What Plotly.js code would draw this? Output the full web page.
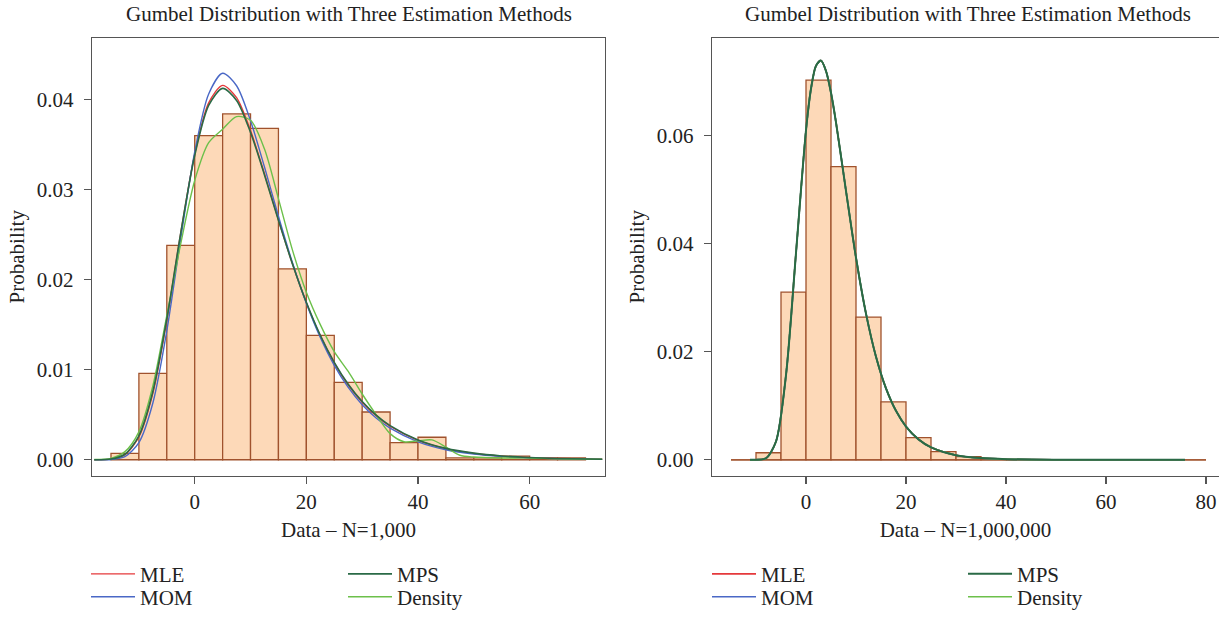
<!DOCTYPE html>
<html>
<head>
<meta charset="utf-8">
<script src="https://cdn.plot.ly/plotly-3.0.1.min.js"></script>
<style>html,body{margin:0;padding:0;background:#fff}#chart{width:1219px;height:618px}</style>
</head>
<body>
<div id="chart"></div>
<script>
// ---------- data: left panel (N = 1,000) ----------
const leftBinCenters = [-12.5,-7.5,-2.5,2.5,7.5,12.5,17.5,22.5,27.5,32.5,37.5,42.5,47.5,52.5,57.5,62.5,67.5];
const leftHist = [0.0007,0.0096,0.0238,0.0360,0.0384,0.0368,0.0212,0.0138,0.0086,0.0053,0.0019,0.0025,0.0002,0.0002,0.0004,0.0002,0.0002];
const leftBinWidth = 5;
const leftCurveX = [-18,-15,-12.5,-10,-7.5,-5,-2.5,0,2.5,5,7.5,10,12.5,15,17.5,20,22.5,25,27.5,30,32.5,35,40,45,50,55,60,65,73];
const leftMLE = [0.0000,0.00007,0.00055,0.00253,0.00738,0.01546,0.02519,0.03392,0.03963,0.04157,0.04020,0.03655,0.03175,0.02663,0.02176,0.01744,0.01375,0.01073,0.00830,0.00639,0.00488,0.00372,0.00215,0.00123,0.00070,0.00040,0.00023,0.00013,0.00005];
const leftMOM = [0.0000,0.00003,0.00035,0.00190,0.00630,0.01432,0.02458,0.03418,0.04062,0.04292,0.04153,0.03764,0.03250,0.02704,0.02190,0.01738,0.01357,0.01048,0.00803,0.00611,0.00463,0.00350,0.00198,0.00111,0.00062,0.00035,0.00020,0.00011,0.00004];
const leftMPS = [0.0000,0.00008,0.00061,0.00266,0.00758,0.01563,0.02520,0.03378,0.03935,0.04124,0.03990,0.03634,0.03162,0.02658,0.02177,0.01748,0.01382,0.01082,0.00839,0.00647,0.00496,0.00379,0.00220,0.00126,0.00073,0.00042,0.00024,0.00014,0.00006];
const leftDensX = [-18,-15,-12.5,-10,-7.5,-5,-2.5,0,2.5,5,7.5,10,12.5,15,17.5,20,22.5,25,27.5,30,32.5,35,37.5,40,42.5,45,47.5,50,55,60,65,73];
const leftDens = [0.00002,0.00015,0.0009,0.0031,0.0082,0.0160,0.0240,0.0310,0.0352,0.0367,0.0381,0.0377,0.0345,0.0290,0.0233,0.0186,0.0150,0.0120,0.0098,0.0073,0.0050,0.0029,0.0020,0.0021,0.0022,0.0014,0.0005,0.0003,0.0002,0.0002,0.0001,0.00005];

// ---------- data: right panel (N = 1,000,000) ----------
const rightBinCenters = [-12.5,-7.5,-2.5,2.5,7.5,12.5,17.5,22.5,27.5,32.5,37.5,42.5,47.5,52.5,57.5,62.5,67.5,72.5,77.5];
const rightHist = [0,0.0013,0.0310,0.0702,0.0542,0.0264,0.0107,0.0041,0.0015,0.0006,0.0002,0,0,0,0,0,0,0,0];
const rightBinWidth = 5;
const rightCurveX = [-11.2,-10,-8,-6,-4,-2,0,1,2,3,4,5,6,8,10,12,14,16,18,20,22.5,25,30,35,40,50,60,75.8];
const rightMLE = [0,0.000006,0.00028,0.00338,0.01566,0.03825,0.06094,0.06862,0.07287,0.07382,0.07191,0.06787,0.06241,0.04972,0.03737,0.02703,0.01906,0.01321,0.00905,0.00615,0.00377,0.00230,0.00085,0.00031,0.00011,0.000015,0.000002,0];
const rightMOM = [0,0.000006,0.00028,0.00338,0.01566,0.03825,0.06094,0.06862,0.07287,0.07382,0.07191,0.06787,0.06241,0.04972,0.03737,0.02703,0.01906,0.01321,0.00905,0.00615,0.00377,0.00230,0.00085,0.00031,0.00011,0.000015,0.000002,0];
const rightMPS = [0,0.000006,0.00028,0.00338,0.01566,0.03825,0.06094,0.06862,0.07287,0.07382,0.07191,0.06787,0.06241,0.04972,0.03737,0.02703,0.01906,0.01321,0.00905,0.00615,0.00377,0.00230,0.00085,0.00031,0.00011,0.000015,0.000002,0];
const rightDens = [0,0.000006,0.00028,0.00338,0.01566,0.03825,0.06094,0.06862,0.07287,0.07382,0.07191,0.06787,0.06241,0.04972,0.03737,0.02703,0.01906,0.01321,0.00905,0.00615,0.00377,0.00230,0.00085,0.00031,0.00011,0.000015,0.000002,0];

const panelTitle = 'Gumbel Distribution with Three Estimation Methods';
const leftXTitle = 'Data \u2013 N=1,000';
const rightXTitle = 'Data \u2013 N=1,000,000';
const yTitle = 'Probability';

// ---------- styling ----------
const FONT = 'Liberation Serif, Times New Roman, serif';
const FS = 21;
const TXT = '#222';
const AX = '#555';
const FILL = '#FDD9B8';
const EDGE = '#A0522D';
const C = {MLE:'#E5383B', MOM:'#4A68C6', MPS:'#2A6A46', Density:'#6CC04A'};
const W = 1219, H = 618;

function bars(xs, ys, w, xa, ya){
  return {type:'bar', x:xs, y:ys, width:xs.map(()=>w), xaxis:xa, yaxis:ya,
    marker:{color:FILL, line:{color:EDGE, width:1.3}}, showlegend:false, hoverinfo:'skip'};
}
function baseline(xs, w, xa, ya){
  return {type:'scatter', mode:'lines', x:[xs[0]-w/2, xs[xs.length-1]+w/2], y:[0,0],
    xaxis:xa, yaxis:ya, line:{color:EDGE, width:1.3}, showlegend:false, hoverinfo:'skip'};
}
function curve(xs, ys, name, xa, ya, leg, width){
  return {type:'scatter', mode:'lines', x:xs, y:ys, name:name, xaxis:xa, yaxis:ya,
    legend:leg, line:{color:C[name], width:width, shape:'spline', smoothing:0.8}};
}

const data = [
  bars(leftBinCenters, leftHist, leftBinWidth, 'x', 'y'),
  curve(leftCurveX, leftMLE, 'MLE', 'x', 'y', 'legend', 1.4),
  curve(leftCurveX, leftMOM, 'MOM', 'x', 'y', 'legend2', 1.4),
  curve(leftDensX, leftDens, 'Density', 'x', 'y', 'legend4', 1.4),
  curve(leftCurveX, leftMPS, 'MPS', 'x', 'y', 'legend3', 1.6),
  baseline(rightBinCenters, rightBinWidth, 'x2', 'y2'),
  bars(rightBinCenters, rightHist, rightBinWidth, 'x2', 'y2'),
  curve(rightCurveX, rightMLE, 'MLE', 'x2', 'y2', 'legend5', 1.6),
  curve(rightCurveX, rightMOM, 'MOM', 'x2', 'y2', 'legend6', 1.6),
  curve(rightCurveX, rightDens, 'Density', 'x2', 'y2', 'legend8', 1.6),
  curve(rightCurveX, rightMPS, 'MPS', 'x2', 'y2', 'legend7', 2.0)
];

const px = v => v / W;
const py = v => 1 - v / H;
const yDom = [py(478), py(38)];

function xax(domain, range, title){
  return {domain:domain, range:range, tick0:0, dtick:20, ticks:'outside', ticklen:7, tickwidth:1.2,
    tickcolor:AX, showline:true, linecolor:AX, linewidth:1.3, mirror:true, showgrid:false, zeroline:false,
    ticklabelstandoff:0,
    tickfont:{family:FONT, size:FS, color:TXT}, title:{text:title, font:{family:FONT, size:FS, color:TXT}, standoff:9},
    fixedrange:true};
}
function yax(domain, range, dtick, anchor, mirror){
  return {domain:domain, range:range, tick0:0, dtick:dtick, tickformat:'.2f', ticks:'outside', ticklen:7, tickwidth:1.2,
    tickcolor:AX, showline:true, linecolor:AX, linewidth:1.3, mirror:mirror, showgrid:false, zeroline:false, anchor:anchor,
    ticklabelstandoff:6,
    tickfont:{family:FONT, size:FS, color:TXT}, title:{text:yTitle, font:{family:FONT, size:FS, color:TXT}, standoff:6},
    fixedrange:true};
}
function leg(x, yc){
  return {x:px(x), xanchor:'left', y:py(yc), yanchor:'middle', orientation:'v', bgcolor:'rgba(0,0,0,0)',
    font:{family:FONT, size:FS, color:TXT}, tracegroupgap:0, itemwidth:44, borderwidth:0};
}

const layout = {
  width:W, height:H, margin:{l:0, r:0, t:0, b:0}, paper_bgcolor:'#fff', plot_bgcolor:'#fff',
  barmode:'overlay', showlegend:true,
  xaxis: Object.assign(xax([px(92), px(605)], [-18.4, 73.5], leftXTitle), {anchor:'y'}),
  yaxis: yax(yDom, [-0.00177, 0.04685], 0.01, 'x', true),
  xaxis2: Object.assign(xax([px(712), 1], [-18.8, 82.6], rightXTitle), {anchor:'y2'}),
  yaxis2: yax(yDom, [-0.00294, 0.07804], 0.02, 'x2', false),
  legend:  leg(86, 577), legend2: leg(86, 600),
  legend3: leg(343, 577), legend4: leg(343, 600),
  legend5: leg(707, 577), legend6: leg(707, 600),
  legend7: leg(963, 577), legend8: leg(963, 600),
  annotations: [
    {text:panelTitle, xref:'paper', yref:'paper', x:px(348.5), y:py(14), xanchor:'center', yanchor:'middle',
     showarrow:false, font:{family:FONT, size:FS, color:TXT}},
    {text:panelTitle, xref:'paper', yref:'paper', x:px(968), y:py(14), xanchor:'center', yanchor:'middle',
     showarrow:false, font:{family:FONT, size:FS, color:TXT}}
  ]
};

Plotly.newPlot('chart', data, layout, {displayModeBar:false, staticPlot:true});
</script>
</body>
</html>
